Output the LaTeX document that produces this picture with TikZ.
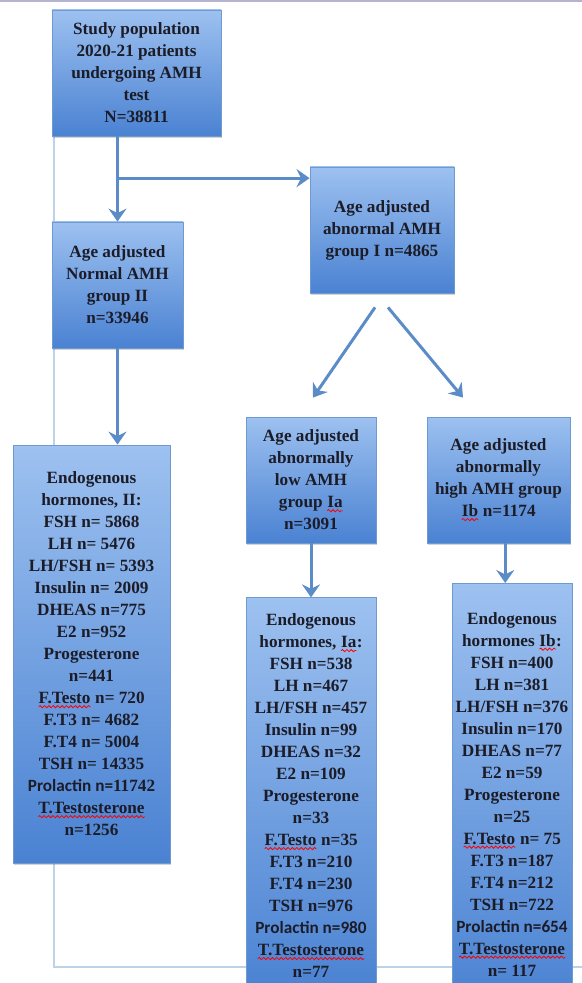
\documentclass[tikz,border=0pt]{standalone}
\usepackage{fontspec}
\usepackage{xcolor}
\usetikzlibrary{positioning,calc,arrows.meta,shadows,decorations.pathmorphing}
\setmainfont{Liberation Serif}
\newfontfamily\calib{Carlito}
\definecolor{boxtop}{HTML}{9DC1F0}
\definecolor{boxbot}{HTML}{4A82D2}
\definecolor{boxline}{HTML}{6F9AD0}
\definecolor{arrcol}{HTML}{5B8CC8}
\definecolor{framecol}{HTML}{BCD2E6}
\definecolor{topcol}{HTML}{B4B4CE}
\definecolor{txt}{HTML}{1C1C28}
\newcommand{\spl}[1]{\tikz[baseline=(w.base)]{\node[inner sep=0pt, outer sep=0pt, minimum width=0pt,
    minimum height=0pt, draw=none, text=txt] (w) {#1};
  \draw[red, line width=0.4pt, decorate, decoration={snake, amplitude=0.55pt, segment length=2.2pt}]
    ([yshift=-1.4pt]w.base west) -- ([yshift=-1.4pt]w.base east);}}
\tikzset{
  box/.style={draw=boxline, line width=0.4pt, top color=boxtop, bottom color=boxbot,
    text=txt, font=\bfseries\fontsize{8.6}{11}\selectfont, align=center,
    inner xsep=1pt, inner ysep=2pt,
    drop shadow={shadow xshift=0.6pt, shadow yshift=-0.8pt, opacity=0.35}},
  arr/.style={draw=arrcol, line width=1.5pt, -{Stealth[length=6.5pt,width=9pt,inset=2.2pt]}},
}
\begin{document}
\begin{tikzpicture}[x=0.5pt,y=-0.5pt]
 \useasboundingbox (0,0) rectangle (582,983);
 \draw[topcol, line width=1pt] (0,1) -- (582,1);
 \draw[framecol, line width=0.8pt] (54,120) -- (54,967) -- (582,967);
 %
 \node[box, minimum width=84.5pt, minimum height=63pt] (pop) at (136.5,73)
   {Study population\\2020-21 patients\\undergoing AMH\\test\\N=38811};
 \node[box, minimum width=65.5pt, minimum height=63pt] (norm) at (117.5,285)
   {Age adjusted\\Normal AMH\\group II\\n=33946};
 \node[box, minimum width=72pt, minimum height=63pt] (abn) at (382,230)
   {Age adjusted\\abnormal AMH\\group I n=4865};
 \node[box, minimum width=65pt, minimum height=63pt] (lo) at (311,480)
   {Age adjusted\\abnormally\\low AMH\\group \spl{Ia}\\n=3091};
 \node[box, minimum width=71.5pt, minimum height=63pt] (hi) at (498.5,480)
   {Age adjusted\\abnormally\\high AMH group\\\spl{Ib} n=1174};
 \node[box, minimum width=78.5pt, minimum height=209pt] (hII) at (91.5,654)
   {Endogenous\\hormones, II:\\FSH n= 5868\\LH n= 5476\\LH/FSH n= 5393\\Insulin n= 2009\\DHEAS n=775\\E2 n=952\\Progesterone\\n=441\\\spl{F.Testo} n= 720\\F.T3 n= 4682\\F.T4 n= 5004\\TSH n= 14335\\{\calib Prolactin n=}11742\\\spl{T.Testosterone}\\n=1256};
 \node[box, below=27pt of lo, minimum width=65pt, minimum height=198pt] (hIa)
   {Endogenous\\hormones, \spl{Ia}:\\FSH n=538\\LH n=467\\LH/FSH n=457\\Insulin n=99\\DHEAS n=32\\E2 n=109\\Progesterone\\n=33\\\spl{F.Testo} n=35\\F.T3 n=210\\F.T4 n=230\\TSH n=976\\{\calib Prolactin n=980}\\\spl{T.Testosterone}\\n=77};
 \node[box, anchor=north, minimum width=60pt, minimum height=211pt] (hIb) at (512,583)
   {Endogenous\\hormones \spl{Ib}:\\FSH n=400\\LH n=381\\LH/FSH n=376\\Insulin n=170\\DHEAS n=77\\E2 n=59\\Progesterone\\n=25\\\spl{F.Testo} n= 75\\F.T3 n=187\\F.T4 n=212\\TSH n=722\\{\calib Prolactin n=654}\\\spl{T.Testosterone}\\n= 117};
 %
 \coordinate (s) at (pop.south -| norm.north);
 \coordinate (br) at ($(s)!0.49!(norm.north)$);
 \coordinate (h) at ($(hi.south)!0.5!(hi.south -| hIb.north)$);
 \draw[arr] (s) -- (norm.north);
 \draw[arr] (br) -- (br -| abn.west);
 \draw[arr] (norm.south) -- (norm.south |- hII.north);
 \draw[arr] ($(abn.south)+(-7,14)$) -- ($(lo.north)+(2,-19)$);
 \draw[arr] ($(abn.south)+(6,14)$) -- ($(hi.north)+(-35.5,-19)$);
 \draw[arr] (lo) -- (hIa);
 \draw[arr] (h) -- (h |- hIb.north);
\end{tikzpicture}
\end{document}
